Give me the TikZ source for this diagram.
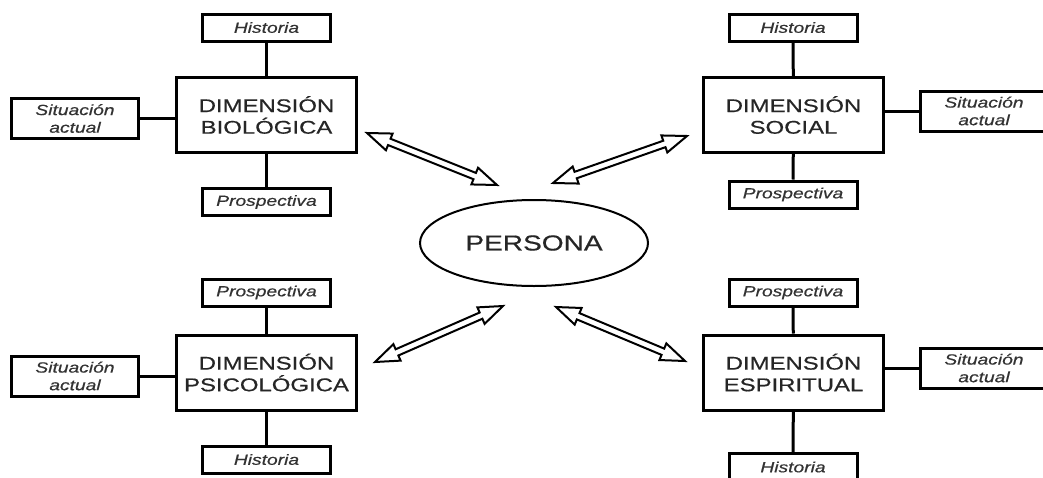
\documentclass[tikz,border=0pt]{standalone}
\usepackage{fontspec}
\setmainfont{Liberation Sans}[FakeStretch=1.3, FakeBold=0.6]
\usetikzlibrary{calc,shapes.geometric}

\newcommand{\twowayarrow}[2]{%
  \draw [twoway] let \p1 = ($(#2)-(#1)$), \n1 = {atan2(\y1,\x1)}, \n2 = {veclen(\x1,\y1)} in
    [shift={(#1)}, rotate=\n1]
    (0pt,0pt) -- (12pt,4.5pt) -- (12pt,1.7pt) -- ({\n2*1pt-12pt},1.7pt) -- ({\n2*1pt-12pt},4.5pt)
    -- ({\n2*1pt},0pt) -- ({\n2*1pt-12pt},-4.5pt) -- ({\n2*1pt-12pt},-1.7pt) -- (12pt,-1.7pt)
    -- (12pt,-4.5pt) -- cycle;
}

\begin{document}
\begin{tikzpicture}[x=0.5pt, y=-0.5pt,
        dimbox/.style={draw, line width=1.5pt, minimum width=90pt, minimum height=37.5pt,
            inner sep=0pt, align=center, text=black!85, font=\fontsize{9.2}{10.8}\selectfont},
        partbox/.style={draw, line width=1.5pt, minimum width=64pt, minimum height=13.5pt,
            inner sep=0pt, align=center, text=black!80, font=\fontsize{7.4}{8.8}\selectfont\itshape},
        sidebox/.style={partbox, minimum width=63.5pt, minimum height=20pt},
        link/.style={line width=1.5pt},
        twoway/.style={line width=1pt, fill=white, line join=miter}]
    \useasboundingbox (0,0) rectangle (1043,477);
    \node [ellipse, draw, line width=1pt, minimum width=114pt, minimum height=43pt, inner sep=0pt,
        text=black!85, font=\fontsize{10.8}{12}\selectfont] (persona) at (534,243) {PERSONA};

    \node [dimbox] (bio) at (266.5,115) {DIMENSIÓN\\BIOLÓGICA};
    \node [partbox] (bio-top) at (266.5,27.5) {Historia};
    \node [partbox] (bio-bot) at (266.5,202) {Prospectiva};
    \node [sidebox] (bio-side) at (75,118.5) {Situación\\actual};

    \node [dimbox] (soc) at (793.5,115) {DIMENSIÓN\\SOCIAL};
    \node [partbox] (soc-top) at (793,27.5) {Historia};
    \node [partbox] (soc-bot) at (793,194.5) {Prospectiva};
    \node [sidebox] (soc-side) at (984,111) {Situación\\actual};

    \node [dimbox] (psi) at (266.5,372.5) {DIMENSIÓN\\PSICOLÓGICA};
    \node [partbox] (psi-top) at (266.5,292.5) {Prospectiva};
    \node [partbox] (psi-bot) at (266.5,459.5) {Historia};
    \node [sidebox] (psi-side) at (75,376) {Situación\\actual};

    \node [dimbox] (esp) at (793.5,372.5) {DIMENSIÓN\\ESPIRITUAL};
    \node [partbox] (esp-top) at (793,292.5) {Prospectiva};
    \node [partbox] (esp-bot) at (793,467) {Historia};
    \node [sidebox] (esp-side) at (984,368) {Situación\\actual};

    \foreach \d/\s in {bio/west, soc/east, psi/west, esp/east} {
        \draw [link] (\d) -- (\d-top);
        \draw [link] (\d) -- (\d-bot);
        \draw [link] (\d-side) -- (\d-side -| \d.\s);
    }

    % arrow tips
    \coordinate (bio-a) at (367,133);
    \coordinate (bio-b) at (497,185);
    \coordinate (soc-a) at (687,136);
    \coordinate (soc-b) at (553,183);
    \coordinate (psi-a) at (375,362);
    \coordinate (psi-b) at (503,306);
    \coordinate (esp-a) at (685,361);
    \coordinate (esp-b) at (556,307);
    \foreach \d in {bio,soc,psi,esp}
        \twowayarrow{\d-a}{\d-b};
\end{tikzpicture}
\end{document}
